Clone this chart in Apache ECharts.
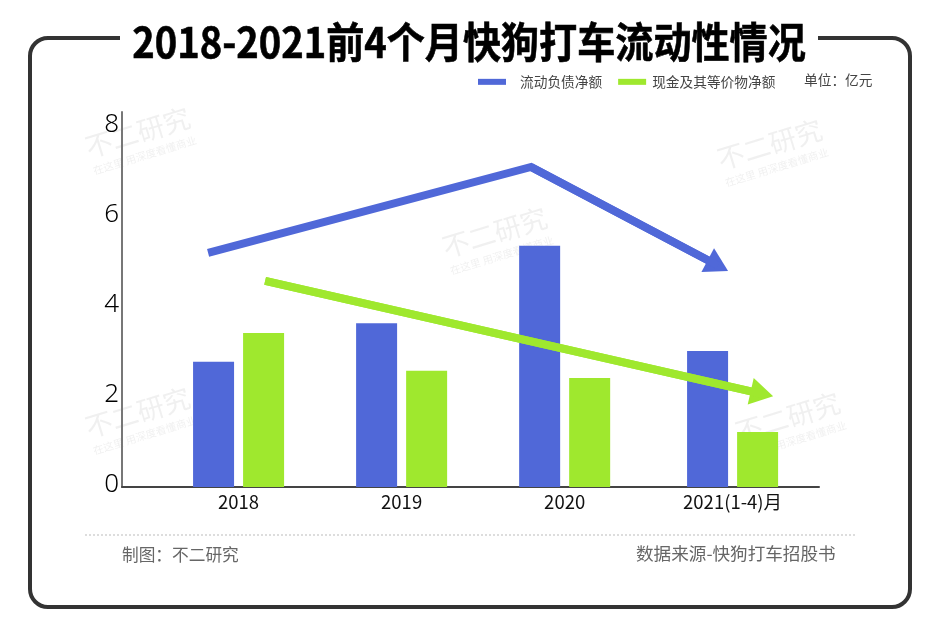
<!DOCTYPE html>
<html>
<head>
<meta charset="utf-8">
<style>
html,body{margin:0;padding:0;background:#fff}
#main{width:940px;height:644px}
</style>
<script src="https://cdn.jsdelivr.net/npm/echarts@6/dist/echarts.min.js"></script>
</head>
<body>
<div id="main"></div>
<script>
var categories = ['2018', '2019', '2020', '2021(1-4)月'];
// 原图最后一组略微靠右
var slots = [0, 1, 2, 3.03];
var liabilities = [2.78, 3.64, 5.36, 3.02];
var cash = [3.42, 2.58, 2.42, 1.22];
var yTicks = [0, 2, 4, 6, 8];
var blueTrend = [[-0.187, 5.2], [1.794, 7.11], [2.94, 4.92]];
var greenTrend = [[0.163, 4.58], [3.21, 2.07]];

var FONT = '"Noto Sans CJK SC", sans-serif';
var BLUE = '#5068d8';
var GREEN = '#9fe82e';

var marks = [[140, 140], [772, 152], [497, 240], [140, 420], [790, 425]];

function pairs(vals) {
    return vals.map(function (v, i) { return [slots[i], v]; });
}

// 趋势线单独成系列，箭头用最后一段的 markLine 画
function trendSeries(name, points, color) {
    var n = points.length;
    return {
        name: name,
        type: 'line',
        data: points,
        z: 5,
        silent: true,
        showSymbol: false,
        symbol: 'none',
        lineStyle: { color: color, width: 8, join: 'miter', cap: 'butt' },
        markLine: {
            silent: true,
            animation: false,
            label: { show: false },
            lineStyle: { color: color, width: 8, type: 'solid' },
            symbol: ['none', 'none'],
            data: [[
                { coord: points[n - 2], symbol: 'none' },
                { coord: points[n - 1], symbol: 'triangle', symbolSize: [27, 23] }
            ]]
        }
    };
}

var watermark = [];
marks.forEach(function (m) {
    watermark.push({
        type: 'group', x: m[0], y: m[1], rotation: 17 * Math.PI / 180, z: 50, silent: true,
        children: [
            { type: 'text', style: { text: '不二研究', x: 0, y: -8, align: 'center', verticalAlign: 'middle', font: '27px ' + FONT, fill: 'rgba(90,90,90,0.09)' } },
            { type: 'text', style: { text: '在这里 用深度看懂商业', x: 0, y: 16, align: 'center', verticalAlign: 'middle', font: '10.5px ' + FONT, fill: 'rgba(90,90,90,0.09)' } }
        ]
    });
});

var chart = echarts.init(document.getElementById('main'), null, { renderer: 'canvas' });

var option = {
    animation: false,
    backgroundColor: '#fff',
    grid: { left: 122, right: 121, top: 112, bottom: 157 },
    legend: {
        left: 473,
        top: 70,
        itemWidth: 28,
        itemHeight: 6,
        itemGap: 16,
        icon: 'rect',
        selectedMode: false,
        textStyle: { fontFamily: FONT, fontSize: 13.7, color: '#444' },
        data: [
            { name: '流动负债净额', textStyle: { padding: [0, 0, 0, 9] } },
            { name: '现金及其等价物净额', textStyle: { padding: [0, 0, 0, 1] } }
        ]
    },
    xAxis: {
        type: 'value',
        min: -0.715,
        max: 3.56,
        splitLine: { show: false },
        axisTick: { show: false },
        axisLine: { lineStyle: { color: '#444', width: 2 } },
        axisLabel: {
            customValues: slots,
            margin: 6,
            fontFamily: FONT,
            fontSize: 18.5,
            color: '#111',
            formatter: function (v) { return categories[slots.indexOf(v)]; }
        }
    },
    yAxis: {
        type: 'value',
        min: 0,
        max: 8.33,
        splitLine: { show: false },
        axisTick: { show: false },
        axisLine: { show: true, onZero: false, lineStyle: { color: '#777', width: 2 } },
        axisLabel: {
            customValues: yTicks,
            margin: 3,
            fontFamily: '"Noto Sans", sans-serif',
            fontWeight: 300,
            fontSize: 26,
            color: '#000',
            verticalAlign: 'bottom',
            lineHeight: 4
        }
    },
    series: [
        {
            name: '流动负债净额',
            type: 'bar',
            barWidth: 41,
            barGap: '22%',
            itemStyle: { color: BLUE },
            data: pairs(liabilities)
        },
        {
            name: '现金及其等价物净额',
            type: 'bar',
            barWidth: 41,
            itemStyle: { color: GREEN },
            data: pairs(cash)
        },
        trendSeries('流动负债趋势', blueTrend, BLUE),
        trendSeries('现金趋势', greenTrend, GREEN)
    ],
    graphic: [
        { type: 'rect', z: -1, silent: true, shape: { x: 30, y: 38, width: 880, height: 569, r: 18 }, style: { fill: '#fff', stroke: '#333', lineWidth: 4 } },
        { type: 'rect', z: 1, silent: true, shape: { x: 120, y: 30, width: 698, height: 20 }, style: { fill: '#fff' } },
        { type: 'text', z: 60, silent: true, x: 469, y: 42, scaleX: 0.907, style: { text: '2018-2021前4个月快狗打车流动性情况', x: 0, y: 0, align: 'center', verticalAlign: 'middle', font: 'bold 42px ' + FONT, fill: '#000', stroke: '#000', lineWidth: 0.6 } },
        { type: 'text', z: 60, silent: true, style: { text: '单位：亿元', x: 804, y: 80, align: 'left', verticalAlign: 'middle', font: '13.7px ' + FONT, fill: '#444' } },
        { type: 'line', z: 60, silent: true, shape: { x1: 85, y1: 535, x2: 857, y2: 535 }, style: { stroke: '#bbb', lineWidth: 1, lineDash: [2, 2] } },
        { type: 'text', z: 60, silent: true, style: { text: '制图：不二研究', x: 122, y: 555, align: 'left', verticalAlign: 'middle', font: '16.7px ' + FONT, fill: '#666' } },
        { type: 'text', z: 60, silent: true, style: { text: '数据来源-快狗打车招股书', x: 636, y: 553, align: 'left', verticalAlign: 'middle', font: '17.6px ' + FONT, fill: '#666' } }
    ].concat(watermark)
};

chart.setOption(option);
</script>
</body>
</html>
